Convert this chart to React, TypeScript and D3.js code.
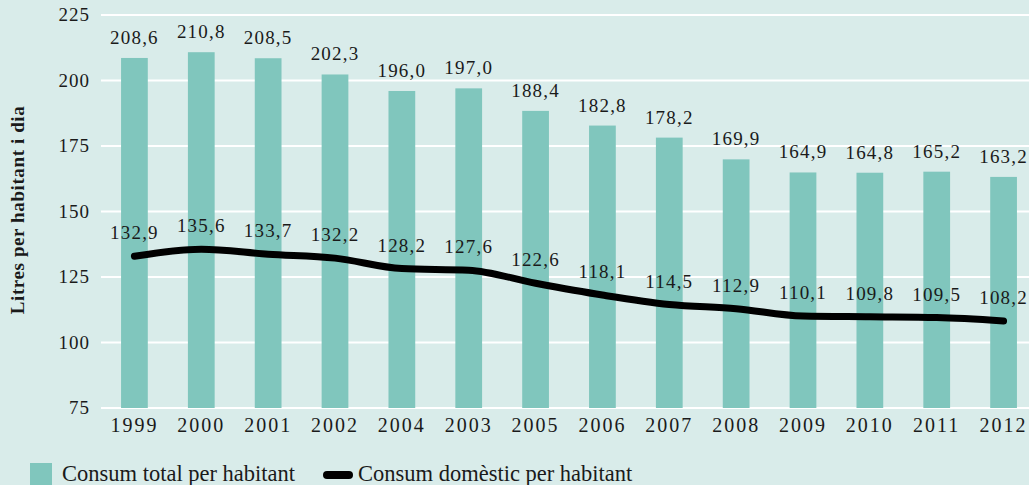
import React, { useEffect, useRef } from 'react';
import * as d3 from 'd3';

const years = ['1999', '2000', '2001', '2002', '2004', '2003', '2005', '2006', '2007', '2008', '2009', '2010', '2011', '2012'];
const totalPerHab = [208.6, 210.8, 208.5, 202.3, 196.0, 197.0, 188.4, 182.8, 178.2, 169.9, 164.9, 164.8, 165.2, 163.2];
const domesticPerHab = [132.9, 135.6, 133.7, 132.2, 128.2, 127.6, 122.6, 118.1, 114.5, 112.9, 110.1, 109.8, 109.5, 108.2];
const yTicks = [75, 100, 125, 150, 175, 200, 225];

const W = 1029;
const H = 485;
const BG = '#d9ecea';
const BAR = '#80c6bd';
const FONT = '"Liberation Serif", "DejaVu Serif", serif';

const fmt = (v: number) => v.toFixed(1).replace('.', ',');

export default function App() {
  const ref = useRef<SVGSVGElement>(null);

  useEffect(() => {
    const svg = d3.select(ref.current);
    svg.selectAll('*').remove();

    const x = d3.scaleBand<string>().domain(years).range([101, 1037]).paddingInner(0.6).paddingOuter(0.3);
    const y = d3.scaleLinear().domain([75, 225]).range([408, 15]);

    svg.append('rect').attr('width', W).attr('height', H).attr('fill', BG);

    // gridlines
    svg.append('g')
      .selectAll('line')
      .data(yTicks)
      .join('line')
      .attr('x1', 101)
      .attr('x2', W)
      .attr('y1', (d) => y(d))
      .attr('y2', (d) => y(d))
      .attr('stroke', '#ffffff')
      .attr('stroke-width', 2);

    // y tick labels
    svg.append('g')
      .selectAll('text')
      .data(yTicks)
      .join('text')
      .attr('x', 90)
      .attr('y', (d) => y(d) + 6)
      .attr('text-anchor', 'end')
      .attr('font-family', FONT)
      .attr('font-size', 19)
      .attr('letter-spacing', 1)
      .attr('fill', '#1a1a1a')
      .text((d) => d);

    // y title
    svg.append('text')
      .attr('transform', 'translate(24,210) rotate(-90)')
      .attr('text-anchor', 'middle')
      .attr('font-family', FONT)
      .attr('font-weight', 'bold')
      .attr('font-size', 19)
      .attr('letter-spacing', 0.6)
      .attr('fill', '#1a1a1a')
      .text('Litres per habitant i dia');

    // bars
    svg.append('g')
      .selectAll('rect')
      .data(totalPerHab)
      .join('rect')
      .attr('x', (_, i) => x(years[i])!)
      .attr('width', x.bandwidth())
      .attr('y', (d) => y(d))
      .attr('height', (d) => y(75) - y(d))
      .attr('fill', BAR);

    const labelStyle = (sel: d3.Selection<any, any, any, any>) =>
      sel
        .attr('text-anchor', 'middle')
        .attr('font-family', FONT)
        .attr('font-size', 19)
        .attr('letter-spacing', 1.2)
        .attr('fill', '#1a1a1a');

    // bar labels
    svg.append('g')
      .selectAll('text')
      .data(totalPerHab)
      .join('text')
      .attr('x', (_, i) => x(years[i])! + x.bandwidth() / 2)
      .attr('y', (d) => y(d) - 14)
      .call(labelStyle)
      .text((d) => fmt(d));

    // line
    const line = d3.line<number>()
      .x((_, i) => x(years[i])! + x.bandwidth() / 2)
      .y((d) => y(d))
      .curve(d3.curveMonotoneX);

    svg.append('path')
      .datum(domesticPerHab)
      .attr('d', line)
      .attr('fill', 'none')
      .attr('stroke', '#000')
      .attr('stroke-width', 7)
      .attr('stroke-linecap', 'round')
      .attr('stroke-linejoin', 'round');

    // line labels
    svg.append('g')
      .selectAll('text')
      .data(domesticPerHab)
      .join('text')
      .attr('x', (_, i) => x(years[i])! + x.bandwidth() / 2)
      .attr('y', (d) => y(d) - 17)
      .call(labelStyle)
      .text((d) => fmt(d));

    // x tick labels
    svg.append('g')
      .selectAll('text')
      .data(years)
      .join('text')
      .attr('x', (d) => x(d)! + x.bandwidth() / 2)
      .attr('y', 432)
      .attr('text-anchor', 'middle')
      .attr('font-family', FONT)
      .attr('font-size', 20)
      .attr('letter-spacing', 2)
      .attr('fill', '#1a1a1a')
      .text((d) => d);

    // legend
    const lg = svg.append('g');
    lg.append('rect').attr('x', 30).attr('y', 463).attr('width', 22).attr('height', 22).attr('fill', BAR);
    lg.append('text')
      .attr('x', 62).attr('y', 481)
      .attr('font-family', FONT).attr('font-size', 22.5).attr('fill', '#1a1a1a')
      .text('Consum total per habitant');
    lg.append('line')
      .attr('x1', 327).attr('x2', 349).attr('y1', 475).attr('y2', 475)
      .attr('stroke', '#000').attr('stroke-width', 8).attr('stroke-linecap', 'round');
    lg.append('text')
      .attr('x', 358).attr('y', 481)
      .attr('font-family', FONT).attr('font-size', 22.5).attr('fill', '#1a1a1a')
      .text('Consum domèstic per habitant');
  }, []);

  return (
    <svg
      ref={ref}
      width={W}
      height={H}
      style={{ position: 'fixed', top: 0, left: 0, display: 'block' }}
    />
  );
}
